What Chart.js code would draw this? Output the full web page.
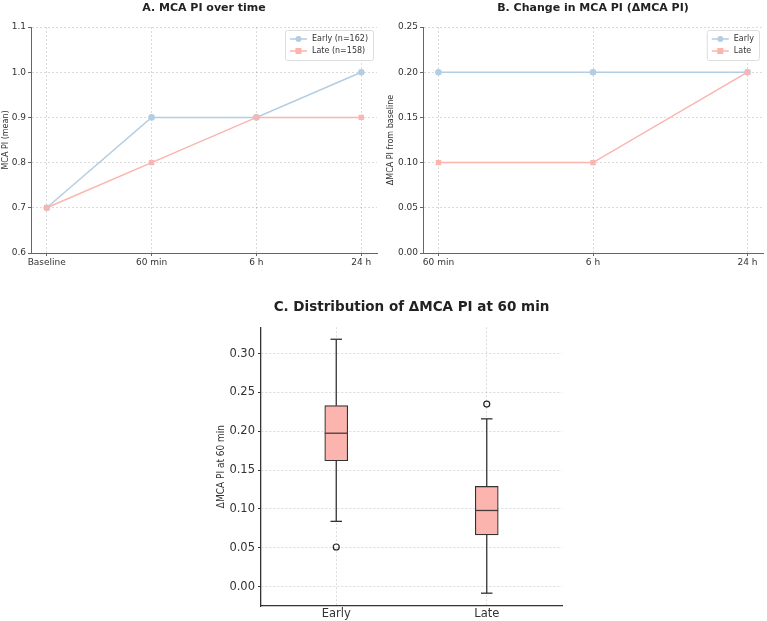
<!DOCTYPE html>
<html lang="en">
<head>
  <meta charset="UTF-8" />
  <title>MCA PI early vs late</title>
  <script src="https://cdn.jsdelivr.net/npm/chart.js"></script>
  <style>
    body {
      margin: 0;
      background: #fff;
      width: 767px;
      height: 621px;
      position: relative;
      overflow: hidden;
    }
    .panel { position: absolute; }
  </style>
</head>
<body>
  <div class="panel" style="left:0;top:0;width:384px;height:280px"><canvas id="chartA" width="384" height="280"></canvas></div>
  <div class="panel" style="left:384px;top:0;width:383px;height:280px"><canvas id="chartB" width="383" height="280"></canvas></div>
  <div class="panel" style="left:200px;top:280px;width:400px;height:341px"><canvas id="chartC" width="400" height="341"></canvas></div>

  <script>
    // A. mean MCA PI per timepoint
    const timepointsA = ['Baseline', '60 min', '6 h', '24 h'];
    const earlyMean = [0.7, 0.9, 0.9, 1.0];
    const lateMean = [0.7, 0.8, 0.9, 0.9];
    const ticksA = [0.6, 0.7, 0.8, 0.9, 1.0, 1.1];

    // B. change from baseline
    const timepointsB = ['60 min', '6 h', '24 h'];
    const earlyDelta = [0.2, 0.2, 0.2];
    const lateDelta = [0.1, 0.1, 0.2];
    const ticksB = [0, 0.05, 0.10, 0.15, 0.20, 0.25];

    // C. box plot of delta at 60 min
    const groupsC = ['Early', 'Late'];
    const whiskerLow = [0.084, -0.0085];
    const q1 = [0.162, 0.0665];
    const median = [0.1975, 0.098];
    const q3 = [0.233, 0.129];
    const whiskerHigh = [0.3185, 0.216];
    const outliers = [[0.051], [0.235]];
    const ticksC = [0, 0.05, 0.10, 0.15, 0.20, 0.25, 0.30];

    const blue = '#b3cde3';
    const pink = '#fbb4ae';
    const gridColor = 'rgba(0,0,0,0.14)';

    Chart.defaults.font.family = '"DejaVu Sans", sans-serif';
    Chart.defaults.color = '#333';
    Chart.defaults.animation = false;

    // legend with a frame, drawn in the top right corner of the plot
    const boxLegend = {
      id: 'boxLegend',
      afterDraw(chart) {
        const ctx = chart.ctx;
        const area = chart.chartArea;
        const sets = chart.data.datasets;
        ctx.save();
        ctx.font = '8px "DejaVu Sans"';
        const textW = Math.max(...sets.map(d => ctx.measureText(d.label).width));
        const w = 5 + 17 + 5 + textW + 5;
        const h = 6 + sets.length * 12;
        const left = area.right - 4 - w;
        const top = area.top + 3;
        ctx.fillStyle = 'rgba(255,255,255,0.85)';
        ctx.strokeStyle = '#ddd';
        ctx.lineWidth = 1;
        ctx.beginPath();
        ctx.roundRect(left + 0.5, top + 0.5, w, h, 2);
        ctx.fill();
        ctx.stroke();
        sets.forEach((d, i) => {
          const y = top + 9 + i * 12;
          const x0 = left + 5;
          ctx.strokeStyle = d.borderColor;
          ctx.lineWidth = 1.5;
          ctx.beginPath();
          ctx.moveTo(x0, y);
          ctx.lineTo(x0 + 17, y);
          ctx.stroke();
          ctx.fillStyle = d.borderColor;
          if (d.pointStyle === 'rect') {
            ctx.fillRect(x0 + 8.5 - 3, y - 3, 6, 6);
          } else {
            ctx.beginPath();
            ctx.arc(x0 + 8.5, y, 3, 0, Math.PI * 2);
            ctx.fill();
          }
          ctx.fillStyle = '#333';
          ctx.textBaseline = 'middle';
          ctx.fillText(d.label, x0 + 17 + 5, y);
        });
        ctx.restore();
      }
    };

    function lineChart(id, cfg) {
      const toPoints = arr => arr.map((v, i) => ({ x: i, y: v }));
      return new Chart(document.getElementById(id), {
        type: 'line',
        data: {
          datasets: [
            {
              label: cfg.earlyLabel,
              data: toPoints(cfg.early),
              borderColor: blue,
              backgroundColor: blue,
              pointStyle: 'circle',
              pointRadius: 3.3,
              pointBorderWidth: 0,
              borderWidth: 1.5,
              order: 1
            },
            {
              label: cfg.lateLabel,
              data: toPoints(cfg.late),
              borderColor: pink,
              backgroundColor: pink,
              pointStyle: 'rect',
              pointRadius: 3.8,
              pointBorderWidth: 0,
              borderWidth: 1.5,
              order: 0
            }
          ]
        },
        options: {
          responsive: false,
          layout: { padding: { left: 0, right: cfg.padRight, top: 0, bottom: 0 } },
          scales: {
            x: {
              type: 'linear',
              min: cfg.xMin,
              max: cfg.xMax,
              afterBuildTicks: s => { s.ticks = cfg.labels.map((_, i) => ({ value: i })); },
              afterFit: s => { s.height = 27; },
              ticks: {
                font: { size: 9 },
                padding: 1,
                maxRotation: 0,
                callback: v => cfg.labels[v]
              },
              grid: { color: gridColor, tickLength: 3, tickColor: '#666', tickBorderDash: [] },
              border: { color: '#666', width: 1, dash: [2, 2] }
            },
            y: {
              min: cfg.ticks[0],
              max: cfg.ticks[cfg.ticks.length - 1],
              afterBuildTicks: s => { s.ticks = cfg.ticks.map(v => ({ value: v })); },
              afterFit: s => { s.width = cfg.yWidth; },
              ticks: {
                font: { size: 9 },
                padding: 2,
                callback: v => v.toFixed(cfg.decimals)
              },
              title: {
                display: true,
                text: cfg.yTitle,
                font: { size: 8 },
                padding: { top: cfg.yTitlePad, bottom: 0 }
              },
              grid: { color: gridColor, tickLength: 3, tickColor: '#666', tickBorderDash: [] },
              border: { color: '#666', width: 1, dash: [2, 2] }
            }
          },
          plugins: {
            legend: { display: false },
            tooltip: { enabled: false },
            title: {
              display: true,
              text: cfg.title,
              fullSize: false,
              color: '#222',
              font: { size: 11, weight: 'bold' },
              padding: { top: 2, bottom: 11.8 }
            }
          }
        },
        plugins: [boxLegend]
      });
    }

    lineChart('chartA', {
      title: 'A. MCA PI over time',
      yTitle: 'MCA PI (mean)',
      labels: timepointsA,
      early: earlyMean,
      late: lateMean,
      earlyLabel: 'Early (n=162)',
      lateLabel: 'Late (n=158)',
      ticks: ticksA,
      decimals: 1,
      xMin: -0.15,
      xMax: 3.15,
      yWidth: 31,
      yTitlePad: 1,
      padRight: 7
    });

    lineChart('chartB', {
      title: 'B. Change in MCA PI (ΔMCA PI)',
      yTitle: 'ΔMCA PI from baseline',
      labels: timepointsB,
      early: earlyDelta,
      late: lateDelta,
      earlyLabel: 'Early',
      lateLabel: 'Late',
      ticks: ticksB,
      decimals: 2,
      xMin: -0.1,
      xMax: 2.1,
      yWidth: 39,
      yTitlePad: 2,
      padRight: 4
    });

    // whiskers, caps and median drawn from the box plot arrays via the scales
    const whiskers = {
      id: 'whiskers',
      afterDatasetsDraw(chart) {
        const { ctx, scales: { x, y } } = chart;
        const boxes = chart.getDatasetMeta(0).data;
        const line = (x1, y1, x2, y2) => {
          ctx.beginPath();
          ctx.moveTo(x1, y1);
          ctx.lineTo(x2, y2);
          ctx.stroke();
        };
        ctx.save();
        ctx.strokeStyle = '#333';
        ctx.lineWidth = 1.3;
        groupsC.forEach((g, i) => {
          const cx = x.getPixelForValue(i);
          const half = boxes[i].width / 2;
          const cap = half / 2;
          const yHi = y.getPixelForValue(whiskerHigh[i]);
          const yLo = y.getPixelForValue(whiskerLow[i]);
          line(cx, y.getPixelForValue(q3[i]), cx, yHi);
          line(cx, y.getPixelForValue(q1[i]), cx, yLo);
          line(cx - cap, yHi, cx + cap, yHi);
          line(cx - cap, yLo, cx + cap, yLo);
          ctx.strokeStyle = '#4a3a3a';
          line(cx - half, y.getPixelForValue(median[i]), cx + half, y.getPixelForValue(median[i]));
          ctx.strokeStyle = '#333';
        });
        ctx.restore();
      }
    };

    new Chart(document.getElementById('chartC'), {
      type: 'bar',
      data: {
        labels: groupsC,
        datasets: [
          {
            label: 'IQR',
            data: q1.map((v, i) => [v, q3[i]]),
            backgroundColor: pink,
            borderColor: '#333',
            borderWidth: 1.2,
            borderSkipped: false,
            barThickness: 23
          },
          {
            type: 'line',
            label: 'Outliers',
            data: outliers.flatMap((vals, i) => vals.map(v => ({ x: groupsC[i], y: v }))),
            showLine: false,
            pointStyle: 'circle',
            pointRadius: 3,
            pointBorderWidth: 1.2,
            pointBorderColor: '#222',
            pointBackgroundColor: 'rgba(255,255,255,0)'
          }
        ]
      },
      options: {
        responsive: false,
        layout: { padding: { left: 0, right: 38, top: 0, bottom: 0 } },
        scales: {
          x: {
            offset: true,
            afterFit: s => { s.height = 15; },
            ticks: { font: { size: 11.5 }, padding: 1 },
            grid: { offset: false, color: gridColor, drawTicks: false },
            border: { color: '#333', width: 1.3, dash: [2, 2] }
          },
          y: {
            min: -0.025,
            max: 0.334,
            afterBuildTicks: s => { s.ticks = ticksC.map(v => ({ value: v })); },
            afterFit: s => { s.width = 61; },
            ticks: { font: { size: 11.5 }, padding: 3, callback: v => v.toFixed(2) },
            title: {
              display: true,
              text: 'ΔMCA PI at 60 min',
              font: { family: '"Liberation Sans Narrow", "DejaVu Sans Condensed", sans-serif', size: 10 },
              padding: { top: 15, bottom: 0 }
            },
            grid: { color: gridColor, tickLength: 3, tickColor: '#333', tickBorderDash: [] },
            border: { color: '#333', width: 1.3, dash: [2, 2] }
          }
        },
        plugins: {
          legend: { display: false },
          tooltip: { enabled: false },
          title: {
            display: true,
            text: 'C. Distribution of ΔMCA PI at 60 min',
            fullSize: false,
            color: '#222',
            font: { size: 13.5, weight: 'bold' },
            padding: { top: 19, bottom: 12 }
          }
        }
      },
      plugins: [whiskers]
    });
  </script>
</body>
</html>
